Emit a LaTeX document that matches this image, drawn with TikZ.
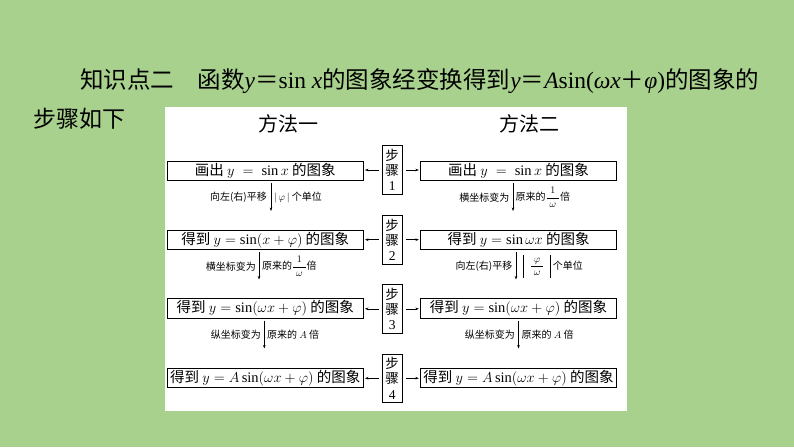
\documentclass[tikz,border=0pt]{standalone}
\usepackage{fontspec}
\setmainfont{Liberation Serif}
\newfontfamily\cjk{Noto Sans CJK SC}
\usetikzlibrary{arrows.meta}
\definecolor{bg}{RGB}{169,209,142}
\newcommand{\tallbar}{\rule[-9pt]{0.6pt}{23pt}}
\begin{document}
\begin{tikzpicture}[x=1pt,y=-1pt,
  box/.style={draw,line width=0.8pt,minimum width=195.5pt,minimum height=19.3pt,inner sep=0pt,font=\cjk\fontsize{14.5}{16}\selectfont},
  stepbox/.style={draw,line width=0.8pt,minimum width=20.5pt,minimum height=48.5pt,inner sep=0pt,align=center,font=\cjk\fontsize{13.5}{15.2}\selectfont},
  lab/.style={inner sep=0pt,font=\cjk\fontsize{10}{12}\selectfont},
  varr/.style={-{Stealth[length=3.5pt,width=2.6pt]},line width=0.6pt,shorten <=2pt},
  harr/.style={-{Stealth[length=3.5pt,width=2.6pt]},line width=0.6pt,shorten >=1.5pt,shorten <=3pt}
]
\fill[bg] (0,0) rectangle (794,447);
\useasboundingbox (0,0) rectangle (794,447);
% title
\node[anchor=base west,inner sep=0pt,font=\cjk\fontsize{23.5}{28}\selectfont] (title) at (80,88)
  {知识点二\hspace{1em}函数{\rmfamily\itshape y}＝{\rmfamily sin \itshape x}的图象经变换得到{\rmfamily\itshape y}＝{\rmfamily\itshape A}{\rmfamily sin(\itshape ωx}＋{\rmfamily\itshape φ}{\rmfamily )}的图象的};
\node[anchor=base west,inner sep=0pt,font=\cjk\fontsize{23}{28}\selectfont] (title2) at (33,127) {步骤如下};
% panel
\fill[white] (164.6,106.7) rectangle (626.8,410.7);
\node[font=\cjk\fontsize{20}{24}\selectfont] (h1) at (288.6,124) {方法一};
\node[font=\cjk\fontsize{20}{24}\selectfont] (h2) at (529,124) {方法二};
% left column
\node[box] (L1) at (265.3,170.7) {画出 $y \;=\; \sin x$ 的图象};
\node[box] (L2) at (265.3,239.7) {得到 $y = \sin(x + \varphi)$ 的图象};
\node[box] (L3) at (265.3,308.5) {得到 $y = \sin(\omega x + \varphi)$ 的图象};
\node[box] (L4) at (265.3,377.9) {得到 $y = A\sin(\omega x + \varphi)$ 的图象};
% right column
\node[box] (R1) at (518.5,170.7) {画出 $y \;=\; \sin x$ 的图象};
\node[box] (R2) at (518.5,239.7) {得到 $y = \sin \omega x$ 的图象};
\node[box] (R3) at (518.5,308.5) {得到 $y = \sin(\omega x + \varphi)$ 的图象};
\node[box] (R4) at (518.5,377.9) {得到 $y = A\sin(\omega x + \varphi)$ 的图象};
% steps
\node[stepbox] (S1) at (392.2,170.0) {步\\骤\\{\rmfamily 1}};
\node[stepbox] (S2) at (392.2,239.7) {步\\骤\\{\rmfamily 2}};
\node[stepbox] (S3) at (392.2,308.8) {步\\骤\\{\rmfamily 3}};
\node[stepbox] (S4) at (392.2,378.2) {步\\骤\\{\rmfamily 4}};
\foreach \i in {1,2,3,4}{
  \draw[harr] (S\i.west) -- (S\i.west -| L\i.east);
  \draw[harr] (S\i.east) -- (S\i.east -| R\i.west);
}
% vertical arrows, left
\coordinate (la1) at (271,211);
\coordinate (la2) at (259,279.5);
\coordinate (la3) at (264.3,348.5);
\draw[varr] (L1.south -| la1) -- (la1);
\draw[varr] (L2.south -| la2) -- (la2);
\draw[varr] (L3.south -| la3) -- (la3);
\node[lab,anchor=east] (l1a) at (267,197.5) {向左(右)平移};
\node[lab,anchor=west] (l1b) at (274,197.5) {$|\,\varphi\,|$ 个单位};
\node[lab,anchor=east] (l2a) at (256,266.5) {横坐标变为};
\node[lab,anchor=west] (l2b) at (262,266.5) {原来的$\displaystyle\frac{\;1\;}{\;\omega\;}$倍};
\node[lab,anchor=east] (l3a) at (261,335) {纵坐标变为};
\node[lab,anchor=west] (l3b) at (267,335) {原来的 $A$ 倍};
% vertical arrows, right
\coordinate (ra1) at (513,211);
\coordinate (ra2) at (516,279.5);
\coordinate (ra3) at (518.5,348.5);
\draw[varr] (R1.south -| ra1) -- (ra1);
\draw[varr] (R2.south -| ra2) -- (ra2);
\draw[varr] (R3.south -| ra3) -- (ra3);
\node[lab,anchor=east] (r1a) at (509.5,197.5) {横坐标变为};
\node[lab,anchor=west] (r1b) at (515.5,197.5) {原来的$\displaystyle\frac{\;1\;}{\;\omega\;}$倍};
\node[lab,anchor=east] (r2a) at (512.5,266.5) {向左(右)平移};
\node[lab,anchor=west] (r2b) at (523,266.5) {\tallbar\hspace{6pt}$\displaystyle\frac{\;\varphi\;}{\;\omega\;}$\hspace{6pt}\tallbar\hspace{2pt}个单位};
\node[lab,anchor=east] (r3a) at (515,335) {纵坐标变为};
\node[lab,anchor=west] (r3b) at (521.5,335) {原来的 $A$ 倍};
\end{tikzpicture}
\end{document}
